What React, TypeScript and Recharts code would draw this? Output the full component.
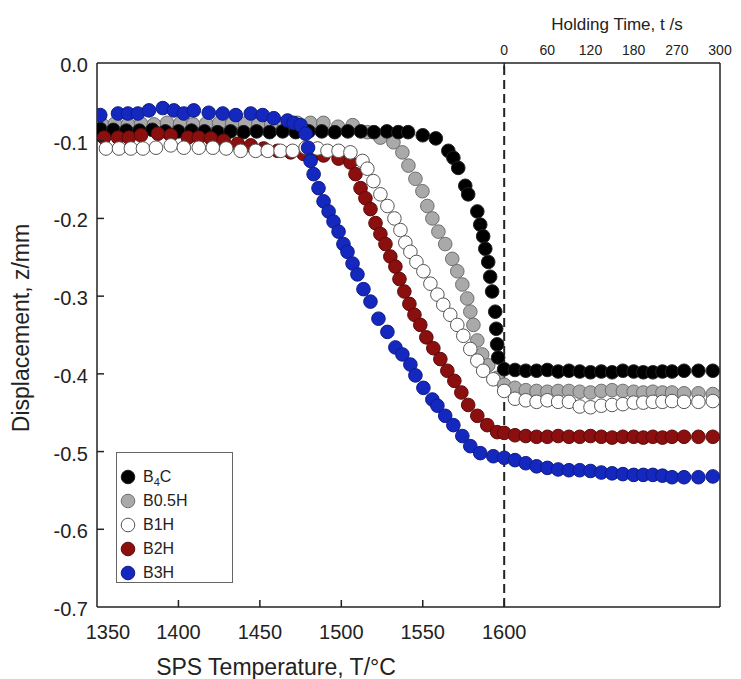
import React from "react";
import { ScatterChart, Scatter, XAxis, YAxis, ReferenceLine } from "recharts";

// bottom axis: SPS temperature (°C); top axis: holding time (s) after 1600 °C
const tempTicks = [1350, 1400, 1450, 1500, 1550, 1600];
const holdTicks = [0, 60, 120, 180, 270, 300];
const yTicks = [-0.7, -0.6, -0.5, -0.4, -0.3, -0.2, -0.1, 0];

// holding-time sampling points (s)
const holdTime = [0, 15, 30, 45, 60, 75, 90, 105, 120, 135, 150, 165, 180, 200, 220, 240, 260, 275, 285, 295];

// [T °C, z mm] during heating
const b4cTemp = [
  [1352, -0.085], [1360, -0.086], [1368, -0.087], [1376, -0.087], [1384, -0.086], [1392, -0.088],
  [1400, -0.088], [1408, -0.087], [1416, -0.088], [1424, -0.089], [1432, -0.088], [1440, -0.089],
  [1448, -0.088], [1456, -0.089], [1464, -0.088], [1472, -0.089], [1480, -0.088], [1488, -0.088],
  [1496, -0.089], [1504, -0.088], [1512, -0.088], [1520, -0.089], [1528, -0.088], [1535, -0.089],
  [1541, -0.089], [1550, -0.093], [1558, -0.097], [1565.7, -0.113], [1568.8, -0.122], [1571.8, -0.135],
  [1576.1, -0.158], [1577.9, -0.169], [1583.5, -0.191], [1585.3, -0.208], [1587.1, -0.223], [1588.4, -0.239],
  [1590.2, -0.256], [1591.4, -0.275], [1592.6, -0.294], [1594.5, -0.32], [1595.1, -0.342], [1595.7, -0.362],
  [1596.3, -0.379],
];
const b05hTemp = [
  [1353, -0.079], [1361, -0.078], [1369, -0.079], [1377, -0.078], [1385, -0.079], [1393, -0.077],
  [1401, -0.078], [1409, -0.079], [1417, -0.078], [1425, -0.077], [1433, -0.078], [1441, -0.078],
  [1449, -0.079], [1457, -0.078], [1465, -0.078], [1473, -0.077], [1481, -0.077], [1489, -0.077],
  [1498, -0.082], [1507, -0.08], [1516, -0.089], [1524, -0.096], [1532, -0.102], [1537.5, -0.115],
  [1541.2, -0.132], [1545.5, -0.149], [1549.8, -0.165], [1552.8, -0.184], [1555.9, -0.2], [1559.6, -0.217],
  [1563.8, -0.233], [1568.1, -0.252], [1571.2, -0.268], [1574.3, -0.285], [1577.3, -0.303], [1579.2, -0.32],
  [1581.1, -0.337], [1583.5, -0.357], [1586.5, -0.375], [1590.2, -0.389], [1595.7, -0.405],
];
const b1hTemp = [
  [1355.5, -0.11], [1363.5, -0.11], [1370.8, -0.11], [1378.2, -0.11], [1386.2, -0.109], [1395.3, -0.106],
  [1403.3, -0.109], [1412.5, -0.109], [1421.1, -0.109], [1429.3, -0.11], [1438.2, -0.113], [1447.4, -0.113],
  [1454.8, -0.113], [1462.7, -0.113], [1470.1, -0.113], [1478.1, -0.109], [1485.4, -0.11], [1491.5, -0.113],
  [1498.3, -0.113], [1505.6, -0.115], [1513, -0.126], [1516, -0.136], [1519.7, -0.152], [1524, -0.169],
  [1528.3, -0.184], [1532.6, -0.2], [1536.3, -0.215], [1539.3, -0.231], [1542.4, -0.243], [1546.1, -0.256],
  [1550.4, -0.268], [1554.7, -0.284], [1559, -0.298], [1562.6, -0.311], [1566.9, -0.324], [1571.2, -0.337],
  [1574.9, -0.351], [1579.2, -0.368], [1583.5, -0.383], [1587.1, -0.396], [1593.3, -0.407],
];
const b2hTemp = [
  [1354.3, -0.096], [1362.9, -0.096], [1369.6, -0.096], [1377, -0.093], [1387.4, -0.091], [1395.3, -0.093],
  [1405.8, -0.096], [1412.5, -0.096], [1419.9, -0.097], [1427.8, -0.1], [1436.4, -0.104], [1444.4, -0.106],
  [1452.3, -0.11], [1460.9, -0.113], [1468.9, -0.115], [1476.8, -0.117], [1483, -0.118], [1489.1, -0.119],
  [1498.3, -0.123], [1505.6, -0.128], [1508.7, -0.143], [1511.8, -0.161], [1514.8, -0.174], [1517.9, -0.188],
  [1521, -0.206], [1524, -0.22], [1527.1, -0.233], [1530.1, -0.249], [1533.2, -0.262], [1535.7, -0.278],
  [1538.7, -0.294], [1541.8, -0.31], [1544.9, -0.324], [1548.5, -0.337], [1552.2, -0.353], [1556.5, -0.367],
  [1560.8, -0.381], [1565.1, -0.396], [1569.4, -0.409], [1573.7, -0.424], [1577.9, -0.44], [1583.5, -0.454],
  [1589.6, -0.466], [1595.7, -0.475],
];
const b3hTemp = [
  [1352, -0.067], [1362.9, -0.065], [1369, -0.065], [1375.1, -0.065], [1381.9, -0.061], [1390.4, -0.058],
  [1397.2, -0.061], [1403.3, -0.065], [1409.4, -0.061], [1418.6, -0.064], [1427.2, -0.065], [1435.2, -0.067],
  [1444.4, -0.065], [1451.7, -0.067], [1458.5, -0.071], [1467, -0.074], [1470.7, -0.077], [1475, -0.08],
  [1478.1, -0.091], [1479.6, -0.109], [1481.1, -0.126], [1483, -0.143], [1486, -0.161], [1489.1, -0.178],
  [1492.2, -0.191], [1495.2, -0.204], [1498.3, -0.217], [1501.3, -0.233], [1503.8, -0.243], [1506.9, -0.258],
  [1509.9, -0.272], [1513.6, -0.291], [1517.9, -0.307], [1522.8, -0.329], [1528.3, -0.346], [1533.2, -0.366],
  [1537.5, -0.375], [1542.4, -0.388], [1545.5, -0.402], [1550.4, -0.418], [1555.9, -0.433], [1559, -0.441],
  [1563.8, -0.454], [1568.8, -0.466], [1574.3, -0.48], [1579.2, -0.493], [1585.3, -0.502], [1593.3, -0.506],
];

// z (mm) during holding, one per holdTime entry
const b4cHold = [-0.394, -0.395, -0.396, -0.396, -0.395, -0.397, -0.396, -0.397, -0.398, -0.397, -0.398, -0.396, -0.397, -0.398, -0.398, -0.397, -0.397, -0.396, -0.396, -0.396];
const b05hHold = [-0.414, -0.418, -0.421, -0.422, -0.423, -0.422, -0.422, -0.423, -0.424, -0.422, -0.421, -0.422, -0.423, -0.424, -0.423, -0.424, -0.424, -0.425, -0.425, -0.426];
const b1hHold = [-0.422, -0.432, -0.434, -0.436, -0.434, -0.436, -0.436, -0.442, -0.443, -0.441, -0.44, -0.439, -0.437, -0.437, -0.436, -0.436, -0.435, -0.436, -0.436, -0.435];
const b2hHold = [-0.476, -0.479, -0.48, -0.481, -0.481, -0.48, -0.481, -0.481, -0.48, -0.481, -0.482, -0.481, -0.481, -0.482, -0.481, -0.482, -0.481, -0.481, -0.481, -0.481];
const b3hHold = [-0.508, -0.511, -0.515, -0.519, -0.521, -0.523, -0.524, -0.524, -0.525, -0.527, -0.528, -0.529, -0.53, -0.53, -0.53, -0.531, -0.533, -0.533, -0.533, -0.532];

const T_END = 1600;
const SLOT = 26.5; // x units between two holding-time ticks
const X_MAX = T_END + SLOT * (holdTicks.length - 1);
const AXIS = "#222";
const FONT = '"Liberation Sans", Arial, Helvetica, sans-serif';

// holding time -> position on the shared x scale (top ticks are evenly spaced)
function holdX(t: number) {
  for (let i = 1; i < holdTicks.length; i++) {
    if (t <= holdTicks[i]) {
      const f = (t - holdTicks[i - 1]) / (holdTicks[i] - holdTicks[i - 1]);
      return T_END + SLOT * (i - 1 + f);
    }
  }
  return X_MAX;
}

const series = [
  { key: "B4C", temp: b4cTemp, hold: b4cHold, fill: "#000000", stroke: "#222222", z: 1 },
  { key: "B0.5H", temp: b05hTemp, hold: b05hHold, fill: "#a9a9a9", stroke: "#6e6e6e", z: 0 },
  { key: "B1H", temp: b1hTemp, hold: b1hHold, fill: "#ffffff", stroke: "#555555", z: 3 },
  { key: "B2H", temp: b2hTemp, hold: b2hHold, fill: "#8b0f0f", stroke: "#5c0a0a", z: 2 },
  { key: "B3H", temp: b3hTemp, hold: b3hHold, fill: "#1428c0", stroke: "#0e1c85", z: 4 },
].map((s) => ({
  ...s,
  tempData: s.temp.map(([x, y]) => ({ x, y })),
  holdData: s.hold.map((y, i) => ({ x: holdX(holdTime[i]), y })),
}));

// drawing order (later on top)
const drawOrder = [...series].sort((a, b) => a.z - b.z);

const BottomTick = ({ x, y, payload, index }: any) => (
  <g>
    {index > 0 && <line x1={x} x2={x} y1={y} y2={y - 7} stroke={AXIS} strokeWidth={1.5} />}
    <text x={x + (index === 0 ? 11 : 0)} y={y + 32} textAnchor="middle" fontSize={20} fill="#222" fontFamily={FONT}>
      {payload.value}
    </text>
  </g>
);

const LeftTick = ({ x, y, payload, index }: any) => (
  <g>
    {index > 0 && index < yTicks.length - 1 && (
      <line x1={x} x2={x + 7} y1={y} y2={y} stroke={AXIS} strokeWidth={1.5} />
    )}
    <text x={x - 9} y={y + 9} textAnchor="end" fontSize={20} fill="#222" fontFamily={FONT}>
      {payload.value.toFixed(1)}
    </text>
  </g>
);

const TopTick = ({ x, y, payload }: any) => {
  const i = Math.round((payload.value - T_END) / SLOT);
  return (
    <g>
      {i === 0 && <line x1={x} x2={x} y1={y} y2={y + 6} stroke={AXIS} strokeWidth={1.5} />}
      <text x={x} y={y - 8} textAnchor="middle" fontSize={14} fill="#222" fontFamily={FONT}>
        {holdTicks[i]}
      </text>
    </g>
  );
};

const Dot = (color: string, edge: string) => (p: any) => (
  <circle cx={p.cx} cy={p.cy} r={6.8} fill={color} stroke={edge} strokeWidth={1} />
);

function LegendBox() {
  return (
    <div
      style={{
        position: "absolute", left: 116, top: 452, width: 117, height: 131,
        border: "1px solid #666", boxSizing: "border-box", background: "#fff",
        paddingTop: 12, fontFamily: FONT, fontSize: 16, color: "#222",
      }}
    >
      {series.map((s) => (
        <div key={s.key} style={{ height: 24, display: "flex", alignItems: "center" }}>
          <svg width={26} height={24} style={{ flex: "none" }}>
            <circle cx={11} cy={12} r={6.8} fill={s.fill} stroke={s.stroke} strokeWidth={1} />
          </svg>
          <span>
            {s.key === "B4C" ? (
              <>B<sub style={{ fontSize: 11, verticalAlign: "-4px", lineHeight: 0 }}>4</sub>C</>
            ) : (
              s.key
            )}
          </span>
        </div>
      ))}
    </div>
  );
}

export default function App() {
  return (
    <div style={{ position: "absolute", left: 0, top: 0, width: 741, height: 679, background: "#fff", fontFamily: FONT }}>
      <ScatterChart width={741} height={679} margin={{ top: 0, right: 20, bottom: 0, left: 0 }}>
        <XAxis
          dataKey="x"
          type="number"
          domain={[1350, X_MAX]}
          allowDataOverflow
          ticks={tempTicks}
          interval={0}
          height={72}
          tickSize={0}
          tickMargin={0}
          axisLine={{ stroke: AXIS, strokeWidth: 1.5 }}
          tick={BottomTick}
          label={({ viewBox }: any) => (
            <text x={viewBox.x + 179} y={viewBox.y + 68} textAnchor="middle" fontSize={23} fill="#222" fontFamily={FONT}>
              SPS Temperature, T/°C
            </text>
          )}
        />
        <XAxis
          xAxisId="top"
          orientation="top"
          dataKey="x"
          type="number"
          domain={[1350, X_MAX]}
          allowDataOverflow
          ticks={holdTicks.map((_, i) => T_END + SLOT * i)}
          interval={0}
          height={63}
          tickSize={0}
          tickMargin={0}
          axisLine={{ stroke: AXIS, strokeWidth: 1.5 }}
          tick={TopTick}
          label={({ viewBox }: any) => (
            <text x={viewBox.x + 520} y={viewBox.y + 30} textAnchor="middle" fontSize={17} fill="#222" fontFamily={FONT}>
              Holding Time, t /s
            </text>
          )}
        />
        <YAxis
          dataKey="y"
          type="number"
          domain={[-0.7, 0]}
          ticks={yTicks}
          interval={0}
          width={97}
          tickSize={0}
          tickMargin={0}
          axisLine={{ stroke: AXIS, strokeWidth: 1.5 }}
          tick={LeftTick}
          label={({ viewBox }: any) => (
            <text
              x={21}
              y={viewBox.y + viewBox.height / 2 - 7}
              transform={`rotate(-90 21 ${viewBox.y + viewBox.height / 2 - 7})`}
              textAnchor="middle"
              dominantBaseline="central"
              fontSize={23}
              fill="#222"
              fontFamily={FONT}
            >
              Displacement, z/mm
            </text>
          )}
        />
        <YAxis
          yAxisId="right"
          orientation="right"
          dataKey="y"
          type="number"
          domain={[-0.7, 0]}
          width={1}
          tick={false}
          tickLine={false}
          axisLine={{ stroke: AXIS, strokeWidth: 1.5 }}
        />
        <ReferenceLine x={T_END} stroke={AXIS} strokeWidth={2} strokeDasharray="9 5" />
        {drawOrder.map((s) => (
          <Scatter
            key={s.key}
            name={s.key}
            data={s.tempData}
            fill={s.fill}
            shape={Dot(s.fill, s.stroke)}
            isAnimationActive={false}
          />
        ))}
        {drawOrder.map((s) => (
          <Scatter
            key={s.key + "-hold"}
            name={s.key}
            xAxisId="top"
            data={s.holdData}
            fill={s.fill}
            shape={Dot(s.fill, s.stroke)}
            isAnimationActive={false}
          />
        ))}
      </ScatterChart>
      <LegendBox />
    </div>
  );
}
